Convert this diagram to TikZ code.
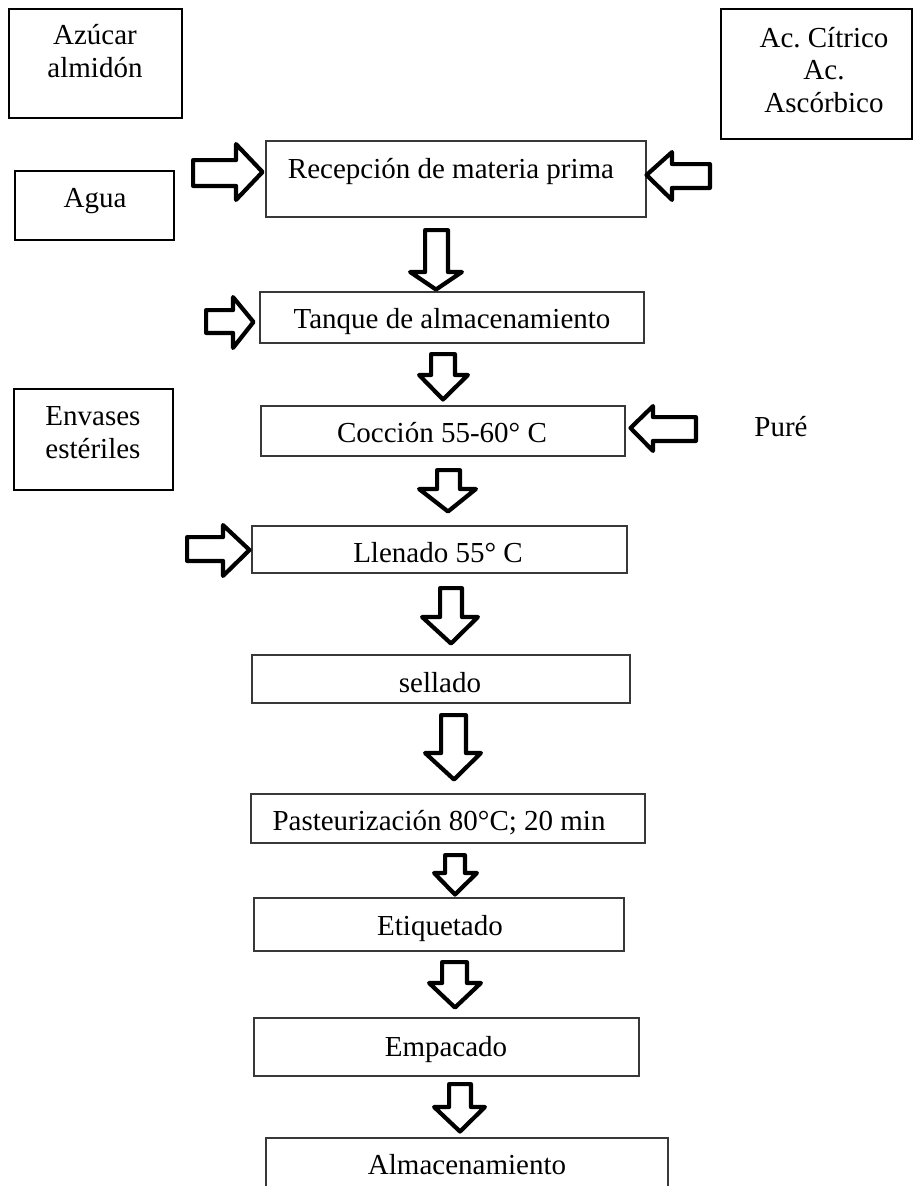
\documentclass[tikz,border=0pt]{standalone}
\usepackage{fontspec}
\setmainfont{Liberation Serif}
\frenchspacing
\tikzset{
  thickbox/.style={draw=black, line width=2.4pt, inner sep=0pt, outer sep=0pt},
  thinbox/.style={draw=black!78, line width=1.1pt, inner sep=0pt, outer sep=0pt},
  txt/.style={inner sep=0pt, outer sep=0pt, font=\fontsize{29}{32.5}\selectfont},
  blk/.style={draw=black, line width=4.2pt, fill=white, line join=round},
}
% box: style, x1, y1, x2, y2, name
\newcommand\mybox[6]{\node[#1, minimum width={#4-#2}, minimum height={#5-#3}] (#6) at ({(#2+#4)/2},{(#3+#5)/2}) {};}
% down block arrow: shaft x1, shaft x2, top, head x1, head x2, head start y, tip x, tip y
\newcommand\blkdown[8]{\draw[blk] ({#1+2.1},{#3+2.1}) -- ({#2-2.1},{#3+2.1}) -- ({#2-2.1},#6) -- ({#5-2.1},#6) -- (#7,{#8-2.5}) -- ({#4+2.1},#6) -- ({#1+2.1},#6) -- cycle;}
% right block arrow: shaft left, shaft y1, shaft y2, head x, head y1, head y2, tip x, tip y
\newcommand\blkright[8]{\draw[blk] ({#1+2.1},{#2+2.1}) -- (#4,{#2+2.1}) -- (#4,{#5+2.1}) -- ({#7-2.5},#8) -- (#4,{#6-2.1}) -- (#4,{#3-2.1}) -- ({#1+2.1},{#3-2.1}) -- cycle;}
% left block arrow: shaft right, shaft y1, shaft y2, head x, head y1, head y2, tip x, tip y
\newcommand\blkleft[8]{\draw[blk] ({#1-2.1},{#2+2.1}) -- (#4,{#2+2.1}) -- (#4,{#5+2.1}) -- ({#7+2.5},#8) -- (#4,{#6-2.1}) -- (#4,{#3-2.1}) -- ({#1-2.1},{#3-2.1}) -- cycle;}
\begin{document}
\begin{tikzpicture}[x=1pt, y=-1pt]
\useasboundingbox (0,0) rectangle (914,1186);
\clip (0,0) rectangle (914,1186);
\fill[white] (0,0) rectangle (914,1186);

% side input boxes
\mybox{thickbox}{9}{9}{182}{118}{azucar}
\mybox{thickbox}{15}{171}{174}{240}{agua}
\mybox{thickbox}{721}{9}{912}{139}{acido}
\mybox{thickbox}{14}{389}{173}{490}{envases}

% process boxes
\mybox{thinbox}{266}{141}{646}{217}{recep}
\mybox{thinbox}{260}{292}{644}{343}{tanque}
\mybox{thinbox}{261}{406}{625}{456}{coccion}
\mybox{thinbox}{252}{526}{627}{573}{llenado}
\mybox{thinbox}{252}{655}{630}{703}{sellado}
\mybox{thinbox}{251}{794}{645}{843}{past}
\mybox{thinbox}{254}{898}{624}{951}{etiq}
\mybox{thinbox}{254}{1018}{639}{1076}{emp}
\mybox{thinbox}{266}{1138}{668}{1210}{alm}

% texts (multi-line nodes: base anchor is the last line's baseline)
\node[txt, align=center, anchor=base] (t-azucar) at (95,77) {Azúcar\\almidón};
\node[txt, anchor=base] (t-agua) at (95,207) {Agua};
\node[txt, align=center, anchor=base] (t-acido) at (824,112) {Ac. Cítrico\\Ac.\\Ascórbico};
\node[txt, align=center, anchor=base] (t-envases) at (93,458) {Envases\\estériles};
\node[txt, anchor=base] (t-pure) at (781,436) {Puré};

\node[txt, anchor=base] (t-recep) at (451,178) {Recepción de materia prima};
\node[txt, anchor=base] (t-tanque) at (452,328) {Tanque de almacenamiento};
\node[txt, anchor=base] (t-coccion) at (442,442) {Cocción 55-60° C};
\node[txt, anchor=base] (t-llenado) at (438,562) {Llenado 55° C};
\node[txt, anchor=base] (t-sellado) at (440,692) {sellado};
\node[txt, anchor=base] (t-past) at (439,830) {Pasteurización 80°C; 20 min};
\node[txt, anchor=base] (t-etiq) at (440,935) {Etiquetado};
\node[txt, anchor=base] (t-emp) at (446,1056) {Empacado};
\node[txt, anchor=base] (t-alm) at (467,1174) {Almacenamiento};

% side arrows
\blkright{191}{158}{188}{236}{142}{202}{265}{172}
\blkright{204}{308}{335}{233}{295}{350}{256}{322}
\blkright{185}{535}{563}{223}{523}{578}{252}{550}
\blkleft{712}{162}{190}{672}{150}{202}{644}{175}
\blkleft{698}{415}{443}{653}{404}{453}{628}{428}

% down arrows
\blkdown{423}{450}{228}{408}{464}{272}{436}{292}
\blkdown{429}{457}{352}{417}{470}{375}{443}{402}
\blkdown{435}{462}{468}{417}{478}{489}{448}{514}
\blkdown{438}{464}{586}{420}{480}{617}{451}{646}
\blkdown{439}{468}{713}{423}{483}{753}{454}{782}
\blkdown{443}{467}{853}{432}{479}{873}{455}{897}
\blkdown{440}{469}{960}{427}{483}{983}{455}{1010}
\blkdown{447}{473}{1082}{432}{487}{1107}{460}{1134}
\end{tikzpicture}
\end{document}
